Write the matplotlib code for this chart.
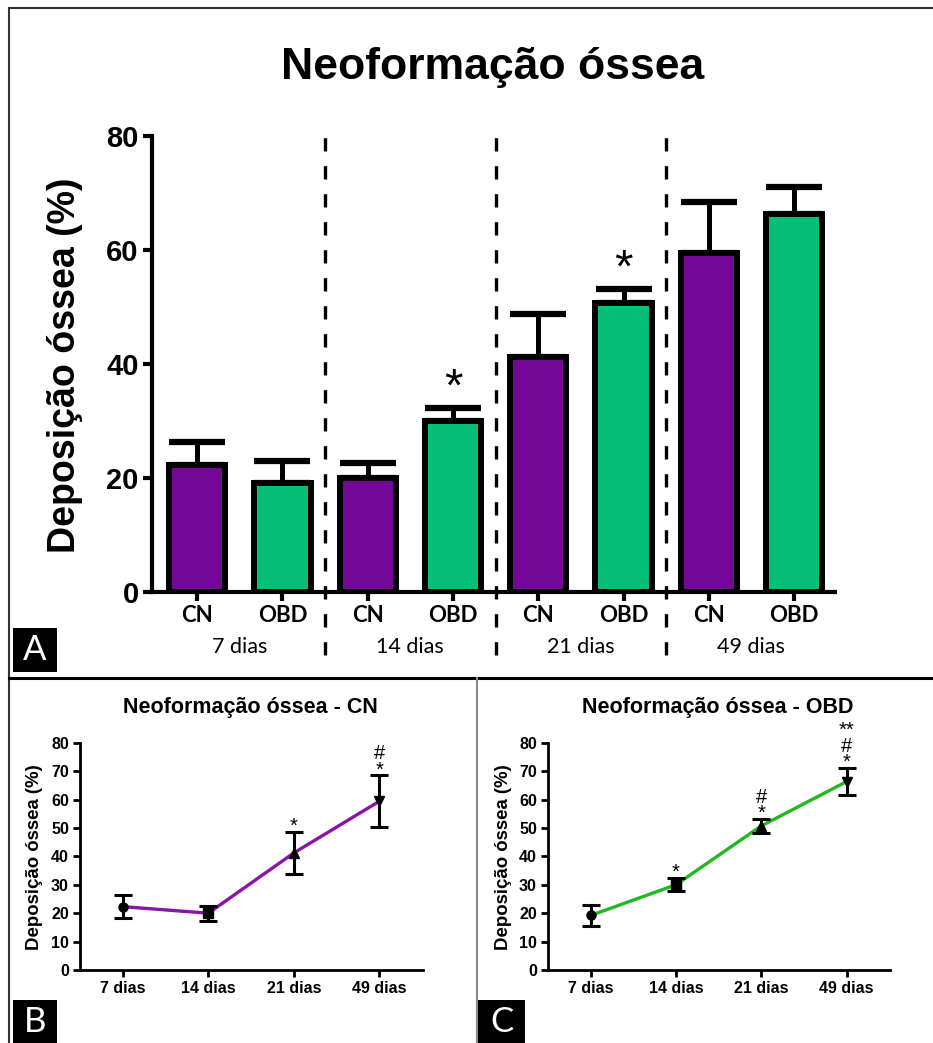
"""Neoformação óssea: bar chart per period plus CN / OBD time courses."""

import matplotlib
matplotlib.use("Agg")
import matplotlib.pyplot as plt
from matplotlib.patches import Rectangle
from matplotlib.lines import Line2D
import numpy as np

# --- data ---
periods = ["7 dias", "14 dias", "21 dias", "49 dias"]
group_names = ["CN", "OBD"]
cn_mean = [22.3, 20.0, 41.2, 59.4]
cn_err = [4.0, 2.7, 7.5, 9.1]
obd_mean = [19.2, 30.0, 50.7, 66.3]
obd_err = [3.8, 2.3, 2.5, 4.7]
bar_marks_obd = ["", "*", "*", ""]
line_marks_cn = [[], [], ["*"], ["*", "#"]]
line_marks_obd = [[], ["*"], ["*", "#"], ["*", "#", "**"]]

PURPLE = "#720895"
GREEN = "#05BF78"
LINE_PURPLE = "#8A14AA"
LINE_GREEN = "#22B822"
MAIN_FONT = "Liberation Sans"
LABEL_FONT = "Lato"

W, H = 933, 1043
fig = plt.figure(figsize=(W / 100, H / 100), dpi=100)


def fx(px):
    return px / W


def fy(py):
    return 1 - py / H


# --- panel frames ---
frame_lines = [
    ((9, 933), (8, 8), "#333333", 1.5),
    ((9, 9), (8, 1043), "#333333", 1.5),
    ((9, 933), (678, 678), "black", 2.2),
    ((477, 477), (678, 1043), "#8a8a8a", 1.5),
]
for xs, ys, col, lw in frame_lines:
    fig.add_artist(Line2D([fx(xs[0]), fx(xs[1])], [fy(ys[0]), fy(ys[1])],
                          transform=fig.transFigure, color=col, lw=lw))

for letter, (x0, y0, x1, y1) in zip("ABC", [(13, 628, 57, 672), (13, 1000, 57, 1043),
                                          (478, 1000, 525, 1043)]):
    fig.add_artist(Rectangle((fx(x0), fy(y1)), fx(x1) - fx(x0), fy(y0) - fy(y1),
                             transform=fig.transFigure, facecolor="black", edgecolor="none"))
    fig.text(fx((x0 + x1) / 2), fy((y0 + y1) / 2), letter, color="white", fontsize=25,
             family=LABEL_FONT, ha="center", va="center")

# --- panel A: bar chart ---
ax = fig.add_axes([fx(152), fy(592), fx(835) - fx(152), fy(136) - fy(592)])
n = len(periods)
x = np.arange(2 * n)
means = [v for pair in zip(cn_mean, obd_mean) for v in pair]
errs = [v for pair in zip(cn_err, obd_err) for v in pair]
colors = [PURPLE, GREEN] * n

ax.errorbar(x, means, yerr=[np.zeros(len(errs)), errs], fmt="none", ecolor="black",
            elinewidth=3.6, capsize=20, capthick=4.5, zorder=1)
ax.bar(x, means, width=0.66, color=colors, edgecolor="black", linewidth=4.3, zorder=2)

for i, mark in enumerate(bar_marks_obd):
    if mark:
        j = 2 * i + 1
        ax.annotate(mark, (j, means[j] + errs[j]), xytext=(0, 5), textcoords="offset points",
                    ha="center", va="baseline", fontsize=34, family=MAIN_FONT)

for k in range(1, n):
    line = ax.axvline(2 * k - 0.5, ymin=-0.138, ymax=1.0, color="black", lw=2.4,
                      clip_on=False, zorder=0)
    line.set_dashes((4.0, 4.4))

ax.set_xlim(-0.53, 7.48)
ax.set_ylim(0, 80)
ax.set_yticks([0, 20, 40, 60, 80])
ax.set_xticks(x)
ax.set_xticklabels(group_names * n, family=LABEL_FONT, fontweight="bold", fontsize=16)
for lab in ax.get_yticklabels():
    lab.set_family(MAIN_FONT)
    lab.set_fontweight("bold")
    lab.set_fontsize(21)
ax.tick_params(axis="y", length=6.5, width=3, pad=3)
ax.tick_params(axis="x", length=6.5, width=3, pad=3)
for side in ["top", "right"]:
    ax.spines[side].set_visible(False)
for side in ["left", "bottom"]:
    ax.spines[side].set_linewidth(3)

for i, name in enumerate(periods):
    ax.text(2 * i + 0.5, -0.1206, name, transform=ax.get_xaxis_transform(),
            ha="center", va="center", fontsize=15.5, family=LABEL_FONT)

fig.text(fx(493), fy(68), "Neoformação óssea", ha="center", va="center",
         fontsize=32, fontweight="bold", family=MAIN_FONT)
fig.text(fx(65), fy(365), "Deposição óssea (%)", rotation=90, ha="center", va="center",
         fontsize=27, fontweight="bold", family=MAIN_FONT)

# --- panels B and C: time courses ---
markers = ["o", "s", "^", "v"]


def line_panel(left_px, right_px, mean, err, marks, color, title, title_x, ylabel_x):
    a = fig.add_axes([fx(left_px), fy(970), fx(right_px) - fx(left_px), fy(742.7) - fy(970)])
    xs = np.arange(len(periods))
    a.plot(xs, mean, color=color, lw=2.4, zorder=2)
    a.errorbar(xs, mean, yerr=err, fmt="none", ecolor="black", elinewidth=2.2,
               capsize=6.5, capthick=2.2, zorder=3)
    for xi, yi, mk in zip(xs, mean, markers):
        a.plot(xi, yi, marker=mk, color="black", markersize=6.5, zorder=4)
    # stacked significance marks, bottom one first in the list
    for xi, yi, ei, mlist in zip(xs, mean, err, marks):
        if mlist:
            a.annotate("\n".join(reversed(mlist)), (xi, yi + ei), xytext=(0, 0),
                       textcoords="offset points", ha="center", va="baseline",
                       fontsize=14.5, family=MAIN_FONT, linespacing=0.8,
                       annotation_clip=False)
    a.set_xlim(-0.5, 3.51)
    a.set_ylim(0, 80)
    a.set_yticks(range(0, 81, 10))
    a.set_xticks(xs)
    a.set_xticklabels(periods)
    for lab in a.get_xticklabels() + a.get_yticklabels():
        lab.set_family(MAIN_FONT)
        lab.set_fontweight("bold")
        lab.set_fontsize(11.5)
    a.tick_params(length=5, width=2, pad=3)
    for side in ["top", "right"]:
        a.spines[side].set_visible(False)
    for side in ["left", "bottom"]:
        a.spines[side].set_linewidth(2)
    fig.text(fx(title_x), fy(708), title, ha="center", va="center", fontsize=15.5,
             fontweight="bold", family=MAIN_FONT)
    fig.text(fx(ylabel_x), fy(857), "Deposição óssea (%)", rotation=90, ha="center",
             va="center", fontsize=13.4, fontweight="bold", family=MAIN_FONT)
    return a


line_panel(80, 423, cn_mean, cn_err, line_marks_cn, LINE_PURPLE,
           "Neoformação óssea - CN", 250, 35)
line_panel(548, 890, obd_mean, obd_err, line_marks_obd, LINE_GREEN,
           "Neoformação óssea - OBD", 718, 503)

fig.savefig("out.png", dpi=100)
